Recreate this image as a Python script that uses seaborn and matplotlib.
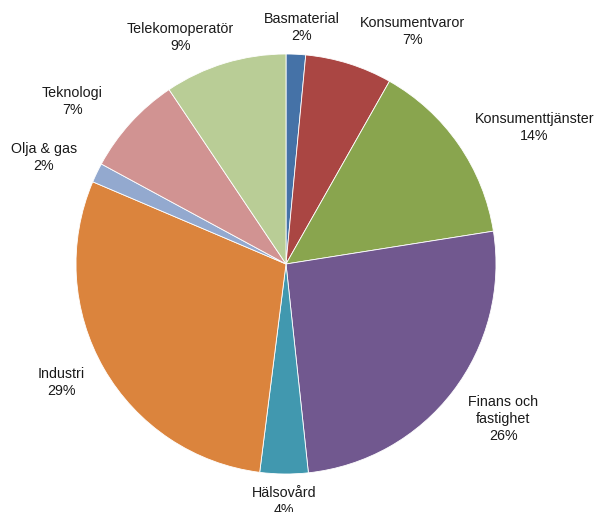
import numpy as np
import matplotlib
matplotlib.use("Agg")
import matplotlib.pyplot as plt
import seaborn as sns

# Sektorfördelning (andel i %)
sektorer = ["Basmaterial", "Konsumentvaror", "Konsumenttjänster", "Finans och\nfastighet",
            "Hälsovård", "Industri", "Olja & gas", "Teknologi", "Telekomoperatör"]
andelar = [1.5, 6.7, 14.3, 25.8, 3.7, 29.4, 1.5, 7.7, 9.4]
etiketter = ["2%", "7%", "14%", "26%", "4%", "29%", "2%", "7%", "9%"]
farger = ["#4572A7", "#AA4643", "#89A54E", "#71588F", "#4198AF",
          "#DB843D", "#93A9CF", "#D19392", "#B9CD96"]

sns.set_theme(style="white")
plt.rcParams["font.family"] = ["Liberation Sans", "DejaVu Sans"]

fig = plt.figure(figsize=(6.02, 5.12), dpi=100)
ax = fig.add_axes([0, 0, 1, 1])

wedges, _ = ax.pie(andelar, colors=farger, startangle=90, counterclock=False,
                   radius=1.0, wedgeprops=dict(edgecolor="white", linewidth=0.6))

# etikettplacering (avstånd från centrum, vinkelförskjutning i grader)
avstand = [1.13, 1.26, 1.35, 1.27, 1.13, 1.21, 1.26, 1.28, 1.19]
forskjut = [1, 11, 6, -2, 0, 2, -2, -5, -8]

for w, namn, pct, r, d in zip(wedges, sektorer, etiketter, avstand, forskjut):
    mid = np.deg2rad((w.theta1 + w.theta2) / 2 - d)
    x, y = r * np.cos(mid), r * np.sin(mid)
    ax.text(x, y, f"{namn}\n{pct}", ha="center", va="center", fontsize=10.3,
            color="#1a1a1a", linespacing=1.28)

ax.set_xlim(-286 / 210, (602 - 286) / 210)
ax.set_ylim(-(512 - 264) / 210, 264 / 210)
ax.set_aspect("auto")
ax.axis("off")

fig.savefig("out.png", dpi=100)
